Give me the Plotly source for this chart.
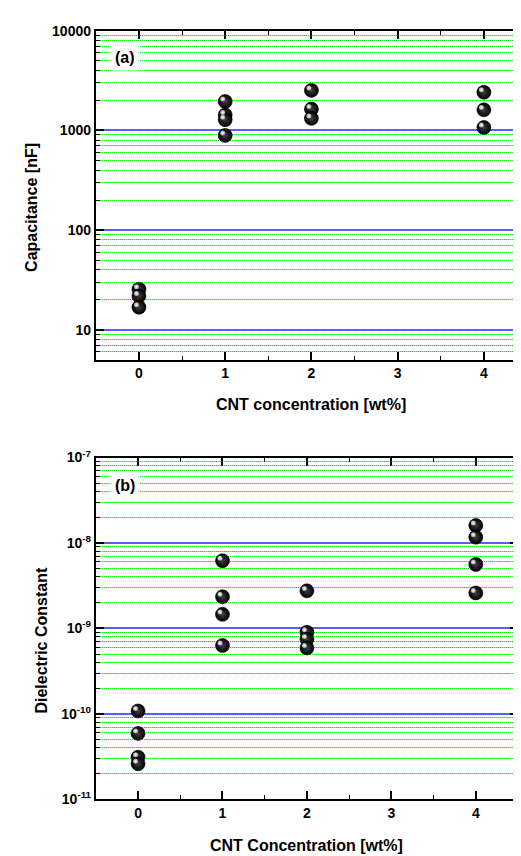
import numpy as np
import plotly.graph_objects as go

# ---- data ----
cap_x = [0, 0, 0, 1, 1, 1, 1, 2, 2, 2, 4, 4, 4]
cap_nF = [25.5, 21.8, 16.8, 1950, 1430, 1280, 890, 2520, 1640, 1320, 2410, 1607, 1070]

die_x = [0, 0, 0, 0, 1, 1, 1, 1, 2, 2, 2, 2, 4, 4, 4, 4]
die_k = [1.08e-10, 5.9e-11, 3.1e-11, 2.6e-11,
         6.2e-9, 2.35e-9, 1.46e-9, 6.3e-10,
         2.75e-9, 9.0e-10, 7.5e-10, 5.9e-10,
         1.6e-8, 1.17e-8, 5.6e-9, 2.6e-9]

x_ticks = [0, 1, 2, 3, 4]
cap_ticks = [10, 100, 1000, 10000]
cap_ticktext = ["10", "100", "1000", "10000"]
die_ticks = [1e-11, 1e-10, 1e-9, 1e-8, 1e-7]
die_ticktext = ["10<sup>-11</sup>", "10<sup>-10</sup>", "10<sup>-9</sup>",
                "10<sup>-8</sup>", "10<sup>-7</sup>"]

FONT = "Liberation Sans, Arial, sans-serif"
W, H = 521, 856

def px_x(p):
    return p / W

def px_y(p):
    return 1 - p / H

def minor_vals(lo_exp, hi_exp):
    vals = []
    for e in range(lo_exp, hi_exp):
        for m in range(2, 10):
            vals.append(m * 10.0 ** e)
    return vals

# panel geometry (pixels)
TOP = dict(x0=88, x1=520, y0=13, y1=349, yr=[np.log10(5), 4])
BOT = dict(x0=88, x1=511, y0=449, y1=798, yr=[-11, -7])
XR = [-0.5, 4.5]
HL_DX, HL_DY = 2.5, 2.5   # highlight offset in pixels (up-left)

marker = dict(size=14, color="black",
              gradient=dict(type="radial", color="#404040"),
              line=dict(color="black", width=0.6))
hl_marker = dict(size=5, color="#9a9a9a",
                 gradient=dict(type="radial", color="#ffffff"),
                 line=dict(width=0))

fig = go.Figure()
fig.add_trace(go.Scatter(x=cap_x, y=cap_nF, mode="markers", marker=marker,
                         xaxis="x", yaxis="y", showlegend=False, hoverinfo="skip"))
fig.add_trace(go.Scatter(x=die_x, y=die_k, mode="markers", marker=marker,
                         xaxis="x2", yaxis="y2", showlegend=False, hoverinfo="skip"))
# specular highlights drawn on shifted overlay axes
fig.add_trace(go.Scatter(x=cap_x, y=cap_nF, mode="markers", marker=hl_marker,
                         xaxis="x3", yaxis="y3", showlegend=False, hoverinfo="skip"))
fig.add_trace(go.Scatter(x=die_x, y=die_k, mode="markers", marker=hl_marker,
                         xaxis="x4", yaxis="y4", showlegend=False, hoverinfo="skip"))

tickfont = dict(family=FONT, size=14, color="black", weight="bold")

xcommon = dict(range=XR, tickvals=x_ticks, showgrid=False,
               zeroline=False, ticks="inside", ticklen=8, tickwidth=1.5,
               tickcolor="black", showline=True, linecolor="black",
               linewidth=2, mirror="allticks", tickfont=tickfont,
               minor=dict(dtick=0.5, ticks="inside", ticklen=4,
                          tickcolor="black", tickwidth=1.2, showgrid=False))

ycommon = dict(type="log", showgrid=True, gridcolor="#5c5cff", gridwidth=1.6,
               zeroline=False, ticks="inside", ticklen=8, tickwidth=1.5,
               tickcolor="black", showline=True, linecolor="black",
               linewidth=2, mirror="allticks", tickfont=tickfont)

minor_style = dict(ticks="inside", ticklen=4, tickcolor="black", tickwidth=1.2,
                   showgrid=True, gridcolor="#00e600", griddash="1px,1px", gridwidth=1)

def shifted(panel):
    xspan = XR[1] - XR[0]
    dx = HL_DX / (panel["x1"] - panel["x0"]) * xspan
    yspan = panel["yr"][1] - panel["yr"][0]
    dy = HL_DY / (panel["y1"] - panel["y0"]) * yspan
    return [XR[0] + dx, XR[1] + dx], [panel["yr"][0] - dy, panel["yr"][1] - dy]

tx, ty = shifted(TOP)
bx, by = shifted(BOT)

hidden = dict(visible=False, showgrid=False, zeroline=False)

fig.update_layout(
    width=W, height=H,
    margin=dict(l=0, r=0, t=0, b=0),
    paper_bgcolor="white", plot_bgcolor="white",
    xaxis=dict(domain=[px_x(TOP["x0"]), px_x(TOP["x1"])], anchor="y", **xcommon),
    yaxis=dict(domain=[px_y(TOP["y1"]), px_y(TOP["y0"])], anchor="x",
               range=TOP["yr"], tickvals=cap_ticks, ticktext=cap_ticktext,
               minor=dict(tickvals=minor_vals(0, 4), **minor_style),
               **ycommon),
    xaxis2=dict(domain=[px_x(BOT["x0"]), px_x(BOT["x1"])], anchor="y2", **xcommon),
    yaxis2=dict(domain=[px_y(BOT["y1"]), px_y(BOT["y0"])], anchor="x2",
                range=BOT["yr"], tickvals=die_ticks, ticktext=die_ticktext,
                minor=dict(tickvals=minor_vals(-11, -7), **minor_style),
                **ycommon),
    xaxis3=dict(domain=[px_x(TOP["x0"]), px_x(TOP["x1"])], anchor="y3",
                overlaying="x", range=tx, **hidden),
    yaxis3=dict(domain=[px_y(TOP["y1"]), px_y(TOP["y0"])], anchor="x3",
                overlaying="y", type="log", range=ty, **hidden),
    xaxis4=dict(domain=[px_x(BOT["x0"]), px_x(BOT["x1"])], anchor="y4",
                overlaying="x2", range=bx, **hidden),
    yaxis4=dict(domain=[px_y(BOT["y1"]), px_y(BOT["y0"])], anchor="x4",
                overlaying="y2", type="log", range=by, **hidden),
)

titlefont = dict(family=FONT, size=16, color="black", weight="bold")
for txt, yy in [("(a)", 40), ("(b)", 478)]:
    fig.add_annotation(text=txt, xref="paper", yref="paper",
                       x=px_x(117), y=px_y(yy), xanchor="center", yanchor="middle",
                       showarrow=False, bgcolor="white", borderpad=4,
                       font=dict(family=FONT, size=16, color="black", weight="bold"))

fig.add_annotation(text="CNT concentration [wt%]", xref="paper", yref="paper",
                   x=px_x(304), y=px_y(395), xanchor="center", yanchor="middle",
                   showarrow=False, font=titlefont)
fig.add_annotation(text="CNT Concentration [wt%]", xref="paper", yref="paper",
                   x=px_x(299), y=px_y(845), xanchor="center", yanchor="middle",
                   showarrow=False, font=titlefont)
fig.add_annotation(text="Capacitance [nF]", xref="paper", yref="paper",
                   x=px_x(24), y=px_y(193), xanchor="center", yanchor="middle",
                   showarrow=False, textangle=-90, font=titlefont)
fig.add_annotation(text="Dielectric Constant", xref="paper", yref="paper",
                   x=px_x(34), y=px_y(636), xanchor="center", yanchor="middle",
                   showarrow=False, textangle=-90, font=titlefont)

fig.write_html("out.html")
